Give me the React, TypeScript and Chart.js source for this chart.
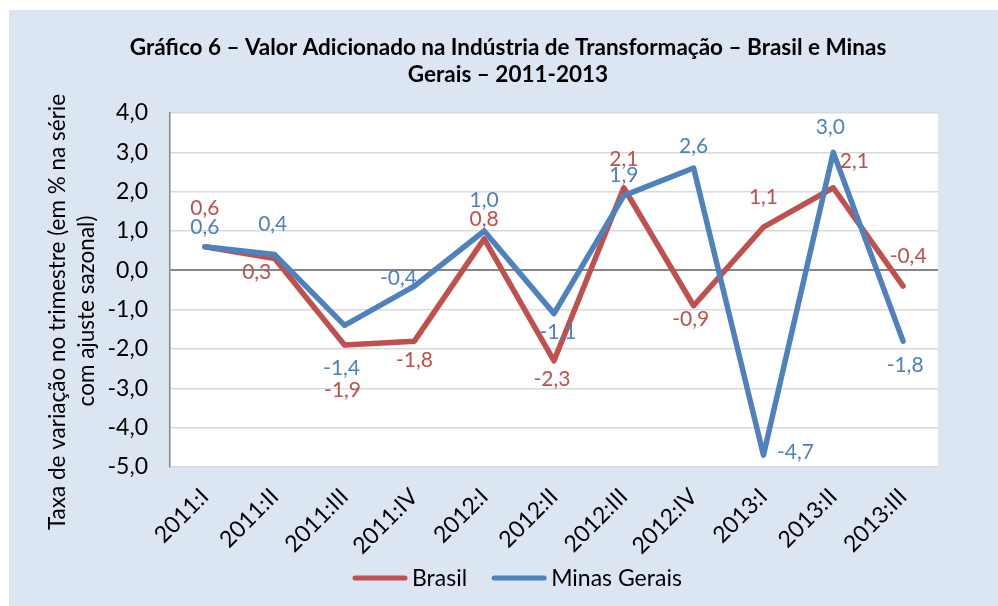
import React, { useEffect, useRef } from 'react';
import { Chart, registerables } from 'chart.js';

Chart.register(...registerables);

// ---------- data ----------
const categories = ['2011:I', '2011:II', '2011:III', '2011:IV', '2012:I', '2012:II', '2012:III', '2012:IV', '2013:I', '2013:II', '2013:III'];
const brasil = [0.6, 0.3, -1.9, -1.8, 0.8, -2.3, 2.1, -0.9, 1.1, 2.1, -0.4];
const minasGerais = [0.6, 0.4, -1.4, -0.4, 1.0, -1.1, 1.9, 2.6, -4.7, 3.0, -1.8];
const seriesNames = ['Brasil', 'Minas Gerais'];
const yMin = -5;
const yMax = 4;
const yStep = 1;
const titleLines = ['Gráfico 6 – Valor Adicionado na Indústria de Transformação – Brasil e Minas', 'Gerais – 2011-2013'];
const yTitleLines = ['Taxa de variação no trimestre (em % na série', 'com ajuste sazonal)'];

// ---------- style ----------
const RED = '#c0504d';
const BLUE = '#4f81bd';
const BG = '#dce6f2';
const FONT = 'Lato, "Liberation Sans", sans-serif';
const brasilLabelOffsets = [[0, -38], [-18, 14], [-2, 45], [0, 19], [0, -20], [-2, 18], [0, -28], [-3, 14], [0, -30], [21, -26], [5, -30]];
const minasLabelOffsets = [[0, -19], [-2, -30], [-3, 43], [-16, -8], [0, -31], [4, 19], [0, -20], [0, -22], [32, -3], [-3, -25], [2, 24]];
const labelOffsets = [brasilLabelOffsets, minasLabelOffsets];

const fmt = (v: number) => v.toFixed(1).replace('.', ',');

const backgroundPlugin = {
  id: 'bgPlugin',
  beforeDraw(chart: any) {
    const { ctx, chartArea } = chart;
    ctx.save();
    ctx.fillStyle = '#ffffff';
    ctx.fillRect(0, 0, chart.width, chart.height);
    ctx.fillStyle = BG;
    ctx.fillRect(9, 10, chart.width - 9, chart.height - 10);
    ctx.fillStyle = '#ffffff';
    ctx.fillRect(chartArea.left, chartArea.top, chartArea.right - chartArea.left, chartArea.bottom - chartArea.top);
    ctx.restore();
  },
  afterDraw(chart: any) {
    const { ctx } = chart;
    ctx.save();
    // title
    ctx.fillStyle = '#000';
    ctx.textAlign = 'center';
    ctx.textBaseline = 'middle';
    ctx.font = `bold 22.5px ${FONT}`;
    ctx.fillText(titleLines[0], 508, 48);
    ctx.fillText(titleLines[1], 508, 75);
    // y axis title
    ctx.font = `22.5px ${FONT}`;
    ctx.save();
    ctx.translate(58, 312);
    ctx.rotate(-Math.PI / 2);
    ctx.fillText(yTitleLines[0], 0, 0);
    ctx.restore();
    ctx.save();
    ctx.translate(87, 311);
    ctx.rotate(-Math.PI / 2);
    ctx.fillText(yTitleLines[1], 0, 0);
    ctx.restore();
    // legend
    const legendY = 578;
    let x = 355;
    ctx.font = `23px ${FONT}`;
    ctx.textAlign = 'left';
    chart.data.datasets.forEach((ds: any) => {
      ctx.strokeStyle = ds.borderColor;
      ctx.lineWidth = 5;
      ctx.lineCap = 'round';
      ctx.beginPath();
      ctx.moveTo(x, legendY);
      ctx.lineTo(x + 50, legendY);
      ctx.stroke();
      ctx.fillStyle = '#000';
      ctx.fillText(ds.label, x + 57, legendY + 1);
      x += 57 + ctx.measureText(ds.label).width + 27;
    });
    ctx.restore();
  },
  afterDatasetsDraw(chart: any) {
    const { ctx } = chart;
    ctx.save();
    ctx.font = `21px ${FONT}`;
    ctx.textAlign = 'center';
    ctx.textBaseline = 'middle';
    chart.data.datasets.forEach((ds: any, di: number) => {
      const meta = chart.getDatasetMeta(di);
      ctx.fillStyle = ds.borderColor;
      meta.data.forEach((el: any, i: number) => {
        const off = labelOffsets[di][i];
        ctx.fillText(fmt(ds.data[i]), el.x + off[0], el.y + off[1]);
      });
    });
    ctx.restore();
  },
};

export default function App() {
  const canvasRef = useRef<HTMLCanvasElement | null>(null);

  useEffect(() => {
    const canvas = canvasRef.current;
    if (!canvas) return;
    const chart = new Chart(canvas, {
      type: 'line',
      data: {
        labels: categories,
        datasets: [
          {
            label: seriesNames[0],
            data: brasil,
            borderColor: RED,
            backgroundColor: RED,
            borderWidth: 5.5,
            pointRadius: 0,
            tension: 0,
            borderJoinStyle: 'round',
            borderCapStyle: 'round',
            order: 1,
          },
          {
            label: seriesNames[1],
            data: minasGerais,
            borderColor: BLUE,
            backgroundColor: BLUE,
            borderWidth: 5.5,
            pointRadius: 0,
            tension: 0,
            borderJoinStyle: 'round',
            borderCapStyle: 'round',
            order: 0,
          },
        ],
      },
      options: {
        responsive: false,
        animation: false,
        devicePixelRatio: 1,
        layout: { padding: { left: 0, right: 60, top: 113, bottom: 0 } },
        plugins: {
          legend: { display: false },
          title: { display: false },
          tooltip: { enabled: false },
        },
        scales: {
          x: {
            type: 'category',
            offset: true,
            grid: { display: false, drawTicks: false },
            border: { display: false },
            ticks: {
              autoSkip: false,
              maxRotation: 45,
              minRotation: 45,
              padding: 16,
              color: '#000',
              font: { family: FONT, size: 23 },
            },
            afterFit: (s: any) => {
              s.height = 139;
            },
          },
          y: {
            min: yMin,
            max: yMax,
            ticks: {
              stepSize: yStep,
              padding: 22,
              color: '#000',
              font: { family: FONT, size: 23 },
              callback: (v: any) => fmt(Number(v)),
            },
            grid: {
              drawTicks: false,
              color: (c: any) => (c.tick && c.tick.value === 0 ? '#868686' : '#d9d9d9'),
              lineWidth: (c: any) => (c.tick && c.tick.value === 0 ? 2 : 1.5),
            },
            border: { display: true, color: '#868686', width: 1.5 },
            afterFit: (s: any) => {
              s.width = 170;
            },
          },
        },
      },
      plugins: [backgroundPlugin],
    });
    return () => chart.destroy();
  }, []);

  return (
    <div style={{ position: 'absolute', left: 0, top: 0, width: 998, height: 606 }}>
      <canvas ref={canvasRef} width={998} height={606} style={{ display: 'block', width: 998, height: 606 }} />
    </div>
  );
}
